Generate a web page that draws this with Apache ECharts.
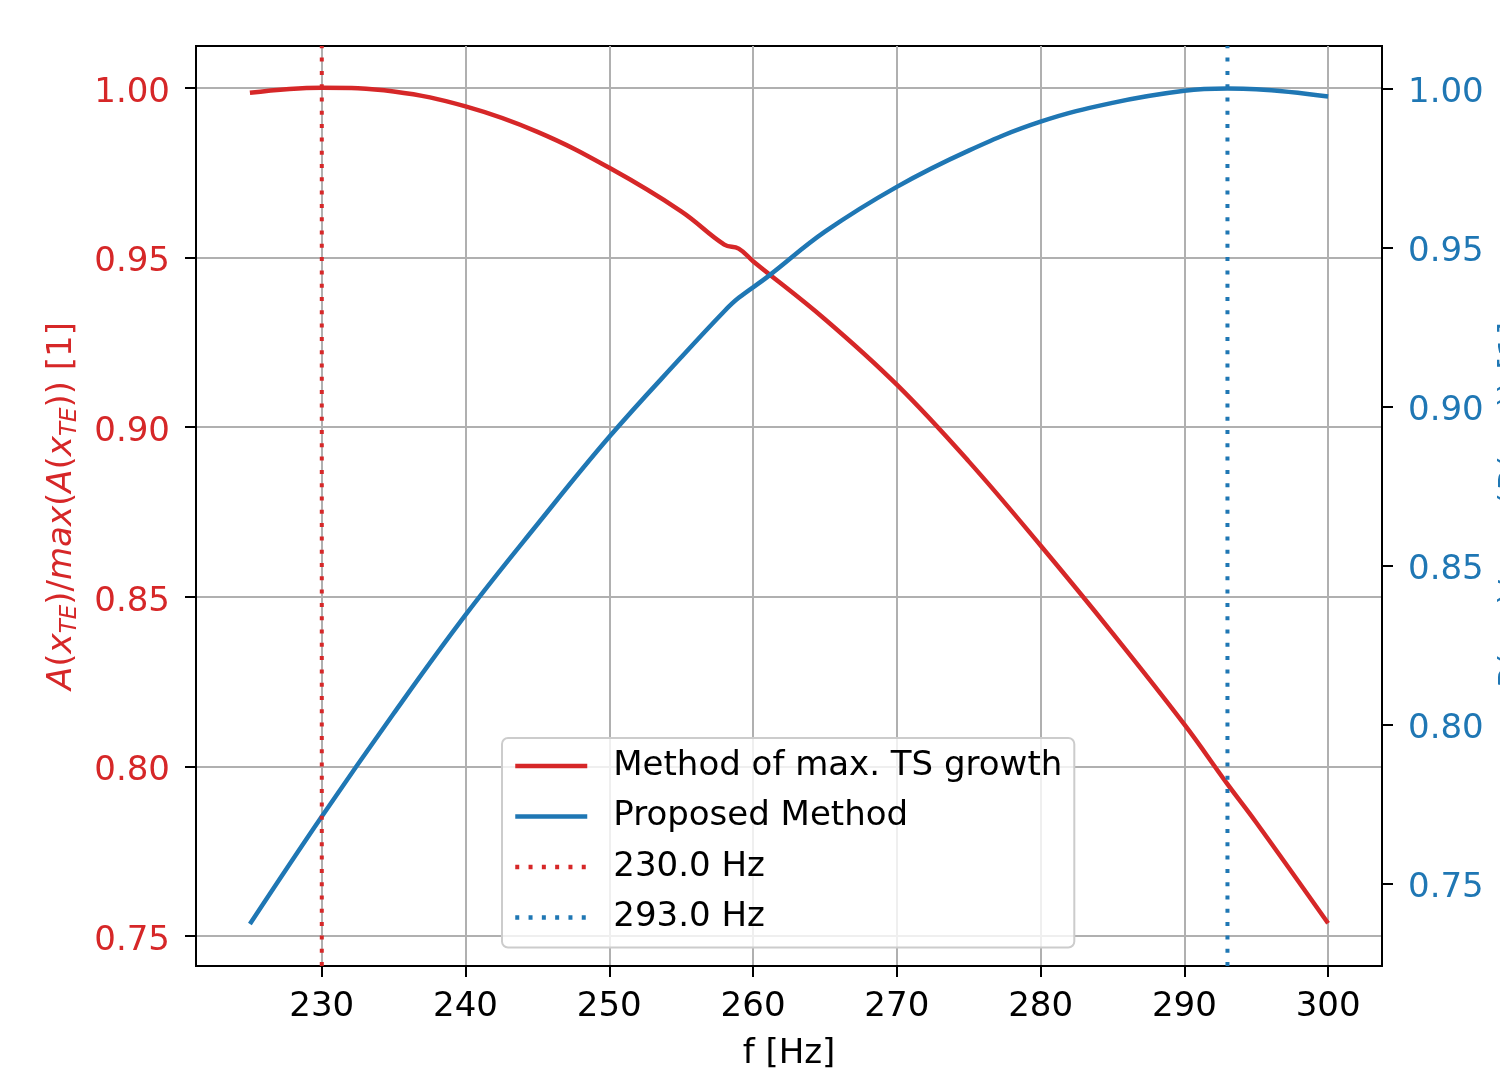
<!DOCTYPE html>
<html>
<head>
<meta charset="utf-8">
<script src="https://cdn.jsdelivr.net/npm/echarts@6/dist/echarts.min.js"></script>
<style>
html, body { margin: 0; padding: 0; background: #fff; }
#main { width: 1500px; height: 1073px; }
</style>
</head>
<body>
<div id="main"></div>
<script>
// frequency sweep, normalised amplitude
var freqRed = [225, 230, 235, 240, 245, 250, 255, 258, 259, 260, 265, 270, 275, 280, 285, 290, 293, 295, 300];
var ampRed = [0.9985, 1.0000, 0.9989, 0.9945, 0.9870, 0.9764, 0.9636, 0.9538, 0.9526, 0.9489, 0.9318, 0.9125, 0.8899, 0.8651, 0.8393, 0.8124, 0.7948, 0.7835, 0.7538];
var freqBlue = [225, 230, 235, 240, 245, 250, 255, 258, 259, 261, 265, 270, 275, 280, 285, 290, 293, 295, 300];
var ampBlue = [0.7373, 0.7711, 0.8035, 0.8345, 0.8630, 0.8905, 0.9155, 0.9300, 0.9342, 0.9408, 0.9550, 0.9691, 0.9805, 0.9896, 0.9955, 0.9993, 1.0000, 0.9998, 0.9975];
var peakFreqs = [230, 293];
var xTicks = [230, 240, 250, 260, 270, 280, 290, 300];
var yTicks = [0.75, 0.80, 0.85, 0.90, 0.95, 1.00];

var RED = '#d62728';
var BLUE = '#1f77b4';
var FONT = 'DejaVu Sans';
var FS = 34;
var leftMin = 0.7412, leftMax = 1.0123;
var rightMin = 0.7241, rightMax = 1.0134;

function zip(xs, ys) {
    return xs.map(function (x, i) { return [x, ys[i]]; });
}

function nameRich(color) {
    return {
        i: { fontStyle: 'italic', fontSize: FS, lineHeight: 40, color: color, fontFamily: FONT },
        s: { fontStyle: 'italic', fontSize: 23, lineHeight: 14, verticalAlign: 'bottom', color: color, fontFamily: FONT }
    };
}

function yAxisBase(pos, color, min, max, name, gap) {
    return {
        type: 'value',
        position: pos,
        min: min,
        max: max,
        name: name,
        nameLocation: 'middle',
        nameGap: gap,
        nameRotate: 90,
        nameTextStyle: {
            color: color, fontSize: FS, fontFamily: FONT, lineHeight: 40,
            rich: nameRich(color)
        },
        axisLine: { show: true, onZero: false, lineStyle: { color: '#000', width: 2 } },
        axisTick: { show: true, length: 11, customValues: yTicks, lineStyle: { color: '#000', width: 2 } },
        axisLabel: {
            customValues: yTicks, color: color, fontSize: FS, fontFamily: FONT, margin: 26,
            verticalAlign: 'top', lineHeight: 10,
            formatter: function (v) { return v.toFixed(2); }
        }
    };
}

var yLeft = yAxisBase('left', RED, leftMin, leftMax,
    '{i|A}({i|x}{s|TE})/{i|max}({i|A}({i|x}{s|TE})) [1]', 114);
yLeft.splitLine = { show: true, lineStyle: { color: '#b0b0b0', width: 2 } };

var yRight = yAxisBase('right', BLUE, rightMin, rightMax,
    '{i|R}({i|x}{s|TE})/{i|max}({i|R}({i|x}{s|TE})) [1]', 102);
yRight.splitLine = { show: false };

var series = [
    {
        name: 'Method of max. TS growth', type: 'line', yAxisIndex: 0,
        data: zip(freqRed, ampRed), symbol: 'none', smooth: 0.4,
        lineStyle: { color: RED, width: 4.5 }, itemStyle: { color: RED }, z: 3
    },
    {
        name: 'Proposed Method', type: 'line', yAxisIndex: 1,
        data: zip(freqBlue, ampBlue), symbol: 'none', smooth: 0.4,
        lineStyle: { color: BLUE, width: 4.5 }, itemStyle: { color: BLUE }, z: 4
    }
];
peakFreqs.forEach(function (f, i) {
    var c = i === 0 ? RED : BLUE;
    series.push({
        name: f.toFixed(1) + ' Hz', type: 'line', yAxisIndex: 0,
        data: [[f, leftMin], [f, leftMax]], symbol: 'none',
        lineStyle: { color: c, width: 4, type: [4, 9.3] }, itemStyle: { color: c }, z: 5
    });
});

var chart = echarts.init(document.getElementById('main'), null, { renderer: 'canvas' });
chart.setOption({
    animation: false,
    backgroundColor: '#fff',
    textStyle: { fontFamily: FONT },
    grid: {
        left: 196, right: 118, top: 46, bottom: 107,
        show: true, borderColor: '#000', borderWidth: 2,
        containLabel: false, outerBoundsMode: 'none'
    },
    legend: {
        orient: 'vertical', left: 502, top: 738,
        itemWidth: 72, itemHeight: 14, itemGap: 14.5,
        padding: [10, 12, 12, 11],
        backgroundColor: 'rgba(255,255,255,0.8)',
        borderColor: '#cccccc', borderWidth: 2, borderRadius: 6,
        itemStyle: { opacity: 0 },
        lineStyle: { width: 4.5 },
        textStyle: { fontSize: FS, color: '#000', lineHeight: 36, padding: [0, 0, 0, 21], fontFamily: FONT }
    },
    xAxis: {
        type: 'value', min: 221.25, max: 303.75,
        name: 'f [Hz]', nameLocation: 'middle', nameGap: 71,
        nameTextStyle: { fontSize: FS, color: '#000', fontFamily: FONT },
        axisLine: { show: true, onZero: false, lineStyle: { color: '#000', width: 2 } },
        axisTick: { show: true, length: 11, customValues: xTicks, lineStyle: { color: '#000', width: 2 } },
        axisLabel: { customValues: xTicks, color: '#000', fontSize: FS, fontFamily: FONT, margin: 24 },
        splitLine: { show: true, lineStyle: { color: '#b0b0b0', width: 2 } }
    },
    yAxis: [yLeft, yRight],
    series: series
});
</script>
</body>
</html>
